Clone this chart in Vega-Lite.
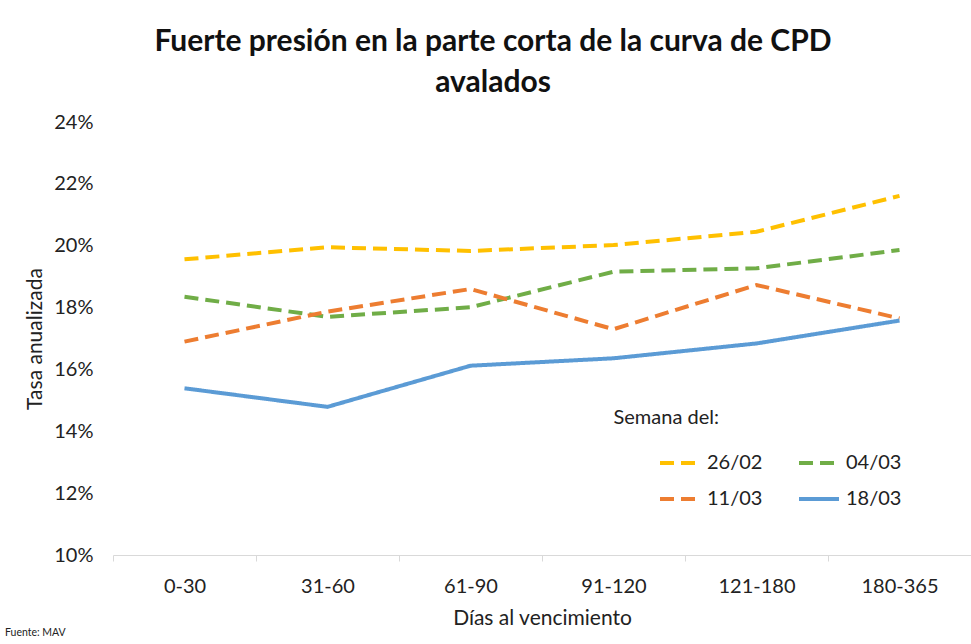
{
  "$schema": "https://vega.github.io/schema/vega-lite/v6.json",
  "width": 858,
  "height": 433,
  "autosize": {"type": "none"},
  "padding": {"left": 113, "top": 122, "right": 0, "bottom": 89},
  "background": "white",
  "config": {"view": {"stroke": null}, "font": "Lato"},
  "title": {
    "text": ["Fuerte presión en la parte corta de la curva de CPD", "avalados"],
    "fontSize": 30,
    "fontWeight": "bold",
    "font": "Lato",
    "color": "#111111",
    "lineHeight": 41,
    "offset": 14,
    "dx": -49,
    "anchor": "middle"
  },
  "datasets": {
    "series": [
      {"plazo": "0-30", "semana": "26/02", "tasa": 0.1956},
      {"plazo": "31-60", "semana": "26/02", "tasa": 0.1995},
      {"plazo": "61-90", "semana": "26/02", "tasa": 0.1983},
      {"plazo": "91-120", "semana": "26/02", "tasa": 0.2002},
      {"plazo": "121-180", "semana": "26/02", "tasa": 0.2045},
      {"plazo": "180-365", "semana": "26/02", "tasa": 0.2161},
      {"plazo": "0-30", "semana": "04/03", "tasa": 0.1835},
      {"plazo": "31-60", "semana": "04/03", "tasa": 0.1770},
      {"plazo": "61-90", "semana": "04/03", "tasa": 0.1801},
      {"plazo": "91-120", "semana": "04/03", "tasa": 0.1916},
      {"plazo": "121-180", "semana": "04/03", "tasa": 0.1927},
      {"plazo": "180-365", "semana": "04/03", "tasa": 0.1986},
      {"plazo": "0-30", "semana": "11/03", "tasa": 0.1690},
      {"plazo": "31-60", "semana": "11/03", "tasa": 0.1787},
      {"plazo": "61-90", "semana": "11/03", "tasa": 0.1860},
      {"plazo": "91-120", "semana": "11/03", "tasa": 0.1730},
      {"plazo": "121-180", "semana": "11/03", "tasa": 0.1873},
      {"plazo": "180-365", "semana": "11/03", "tasa": 0.1765},
      {"plazo": "0-30", "semana": "18/03", "tasa": 0.1539},
      {"plazo": "31-60", "semana": "18/03", "tasa": 0.1479},
      {"plazo": "61-90", "semana": "18/03", "tasa": 0.1612},
      {"plazo": "91-120", "semana": "18/03", "tasa": 0.1636},
      {"plazo": "121-180", "semana": "18/03", "tasa": 0.1684},
      {"plazo": "180-365", "semana": "18/03", "tasa": 0.1758}
    ],
    "notas": [
      {"plazo": "91-120", "tasa": 0.1443, "texto": "Semana del:"}
    ],
    "fuente": [
      {"plazo": "0-30", "tasa": 0.0748, "texto": "Fuente: MAV"}
    ]
  },
  "layer": [
    {
      "data": {"name": "series"},
      "mark": {"type": "line", "strokeWidth": 4, "strokeCap": "butt"},
      "encoding": {
        "x": {
          "field": "plazo",
          "type": "ordinal",
          "bandPosition": 0.5,
          "scale": {"type": "band", "domain": ["0-30", "31-60", "61-90", "91-120", "121-180", "180-365"], "paddingInner": 0, "paddingOuter": 0},
          "axis": {
            "title": "Días al vencimiento",
            "labelAngle": 0,
            "tickBand": "extent",
            "grid": false,
            "domainColor": "#D9D9D9",
            "tickColor": "#D9D9D9",
            "tickSize": 6,
            "labelPadding": 15,
            "labelFontSize": 20,
            "labelColor": "#222222",
            "titleFontSize": 21,
            "titleFontWeight": "normal",
            "titleColor": "#222222",
            "titlePadding": 11
          }
        },
        "y": {
          "field": "tasa",
          "type": "quantitative",
          "scale": {"domain": [0.10, 0.24]},
          "axis": {
            "values": [0.10, 0.12, 0.14, 0.16, 0.18, 0.20, 0.22, 0.24],
            "format": ".0%",
            "title": "Tasa anualizada",
            "grid": false,
            "domain": false,
            "ticks": false,
            "labelFontSize": 20,
            "labelPadding": 20,
            "labelColor": "#222222",
            "titleFontSize": 21,
            "titleFontWeight": "normal",
            "titleColor": "#222222",
            "titlePadding": 8
          }
        },
        "color": {
          "field": "semana",
          "type": "nominal",
          "scale": {"domain": ["26/02", "04/03", "11/03", "18/03"], "range": ["#FFC000", "#70AD47", "#ED7D31", "#5B9BD5"]},
          "legend": {
            "title": null,
            "orient": "none",
            "direction": "horizontal",
            "legendX": 545,
            "legendY": 319,
            "columns": 2,
            "symbolType": "stroke",
            "symbolSize": 1600,
            "symbolStrokeWidth": 4,
            "labelFontSize": 20,
            "labelFont": "Lato",
            "labelColor": "#222222",
            "columnPadding": 28,
            "rowPadding": 4,
            "labelOffset": 5,
            "padding": 0
          }
        },
        "strokeDash": {
          "field": "semana",
          "type": "nominal",
          "scale": {"domain": ["26/02", "04/03", "11/03", "18/03"], "range": [[14, 7], [14, 7], [14, 7], [1, 0]]},
          "legend": {
            "title": null,
            "orient": "none",
            "direction": "horizontal",
            "legendX": 545,
            "legendY": 319,
            "columns": 2,
            "symbolType": "stroke",
            "symbolSize": 1600,
            "symbolStrokeWidth": 4,
            "labelFontSize": 20,
            "labelFont": "Lato",
            "labelColor": "#222222",
            "columnPadding": 28,
            "rowPadding": 4,
            "labelOffset": 5,
            "padding": 0
          }
        }
      }
    },
    {
      "data": {"name": "notas"},
      "mark": {"type": "text", "align": "left", "baseline": "middle", "fontSize": 20, "font": "Lato", "color": "#222222"},
      "encoding": {
        "x": {"field": "plazo", "type": "ordinal", "bandPosition": 0.5},
        "y": {"field": "tasa", "type": "quantitative"},
        "text": {"field": "texto"}
      }
    },
    {
      "data": {"name": "fuente"},
      "mark": {"type": "text", "align": "left", "baseline": "middle", "fontSize": 10.5, "font": "Lato", "color": "#222222", "dx": -108},
      "encoding": {
        "x": {"field": "plazo", "type": "ordinal", "bandPosition": 0},
        "y": {"field": "tasa", "type": "quantitative"},
        "text": {"field": "texto"}
      }
    }
  ]
}
